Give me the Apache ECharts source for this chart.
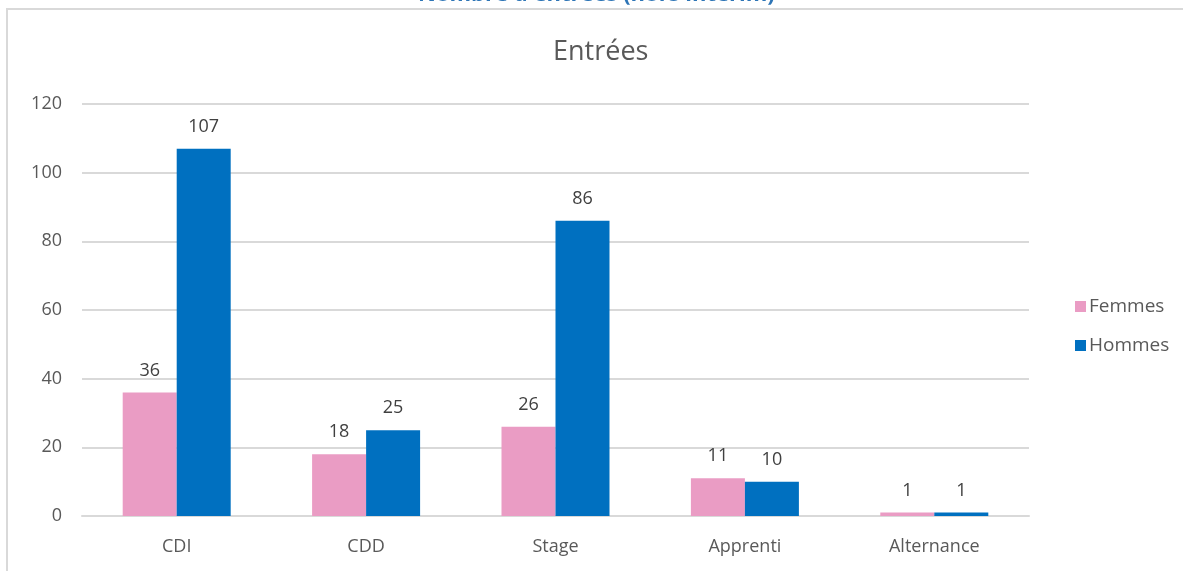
<!DOCTYPE html>
<html>
<head>
<meta charset="utf-8">
<script src="https://cdn.jsdelivr.net/npm/echarts@6/dist/echarts.min.js"></script>
<style>html,body{margin:0;padding:0;background:#fff;}#c{width:1183px;height:571px;}</style>
</head>
<body>
<div id="c"></div>
<script>
const categories = ['CDI', 'CDD', 'Stage', 'Apprenti', 'Alternance'];
const femmes = [36, 18, 26, 11, 1];
const hommes = [107, 25, 86, 10, 1];
const seriesNames = ['Femmes', 'Hommes'];
const chartTitle = 'Entrées';
const headerText = "Nombre d'entrées (hors intérim)";

const FONT = '"Open Sans", "Liberation Sans", sans-serif';
const chart = echarts.init(document.getElementById('c'), null, {renderer: 'canvas'});
chart.setOption({
  animation: false,
  backgroundColor: '#fff',
  title: {
    text: chartTitle, left: 548, top: 34,
    textStyle: {fontFamily: FONT, fontSize: 27, fontWeight: 'normal', color: '#595959'}
  },
  graphic: [
    {type: 'rect', shape: {x: 7, y: 9, width: 1200, height: 620},
     style: {fill: 'none', stroke: '#d9d9d9', lineWidth: 2}, silent: true},
    {type: 'text', left: 418, top: -16,
     style: {text: headerText, font: 'bold 22px ' + FONT, fill: '#2E75B6'}}
  ],
  legend: {
    orient: 'vertical', left: 1070, top: 292, itemGap: 20,
    itemWidth: 11, itemHeight: 11, icon: 'rect',
    textStyle: {fontFamily: FONT, fontSize: 19, color: '#595959', padding: [0, 0, 0, -2]}
  },
  grid: {left: 82, right: 154, top: 104, bottom: 55},
  xAxis: {
    type: 'category', data: categories,
    axisLine: {lineStyle: {color: '#d9d9d9', width: 2}},
    axisTick: {show: false},
    axisLabel: {fontFamily: FONT, fontSize: 18, color: '#595959', margin: 22}
  },
  yAxis: {
    type: 'value', min: 0, max: 120, interval: 20,
    axisLine: {show: false}, axisTick: {show: false},
    splitLine: {lineStyle: {color: '#d9d9d9', width: 2}},
    axisLabel: {fontFamily: FONT, fontSize: 18, color: '#595959', margin: 20}
  },
  series: [
    {name: seriesNames[0], type: 'bar', data: femmes, barWidth: 54, barGap: '0%',
     itemStyle: {color: '#EA9CC4'},
     label: {show: true, position: 'top', distance: 13, fontFamily: FONT, fontSize: 18, color: '#404040'}},
    {name: seriesNames[1], type: 'bar', data: hommes, barWidth: 54, barGap: '0%',
     itemStyle: {color: '#0070C0'},
     label: {show: true, position: 'top', distance: 13, fontFamily: FONT, fontSize: 18, color: '#404040'}}
  ]
});
</script>
</body>
</html>
